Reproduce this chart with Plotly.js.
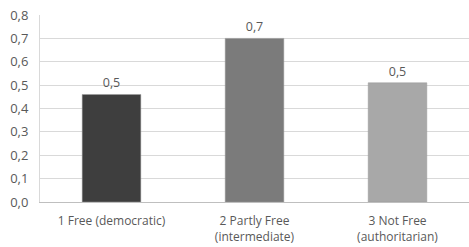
<!DOCTYPE html>
<html><head><meta charset="utf-8">
<script src="https://cdn.plot.ly/plotly-3.0.1.min.js"></script>
<style>html,body{margin:0;padding:0;background:#fff}</style>
</head><body>
<div id="chart" style="width:469px;height:247px"></div>
<script>
var categories = ["1 Free (democratic)", "2 Partly Free<br>(intermediate)", "3 Not Free<br>(authoritarian)"];
var values = [0.46, 0.70, 0.51];
var barColors = ["#3e3e3e", "#7b7b7b", "#a8a8a8"];
var yTickVals = [0, 0.1, 0.2, 0.3, 0.4, 0.5, 0.6, 0.7, 0.8];

var trace = {
  type: "bar",
  x: categories,
  y: values,
  marker: {color: barColors, line: {color: "#9a9a9a", width: 0.5}},
  width: 0.41,
  text: values,
  texttemplate: "%{y:.1f}",
  textposition: "outside",
  cliponaxis: false,
  textfont: {family: "Open Sans, sans-serif", size: 12.5, color: "#595959"},
  hoverinfo: "none"
};
var layout = {
  width: 469, height: 247,
  margin: {l: 40, r: 0, t: 15, b: 45},
  paper_bgcolor: "#fff", plot_bgcolor: "#fff",
  separators: ",.",
  showlegend: false,
  font: {family: "Open Sans, sans-serif", size: 12.5, color: "#595959"},
  xaxis: {
    showline: true, linecolor: "#bfbfbf", linewidth: 1,
    ticks: "", tickfont: {size: 12, color: "#595959"},
    ticklabelstandoff: 8,
    showgrid: false
  },
  yaxis: {
    range: [0, 0.8], tickvals: yTickVals, tickformat: ".1f",
    showgrid: true, gridcolor: "#d9d9d9", gridwidth: 1,
    showline: true, linecolor: "#d9d9d9",
    zeroline: false, ticks: "", ticklen: 0,
    ticklabelstandoff: 8,
    tickfont: {size: 13, color: "#595959"}
  }
};
Plotly.newPlot("chart", [trace], layout, {displayModeBar: false, staticPlot: true});
</script>
</body></html>
